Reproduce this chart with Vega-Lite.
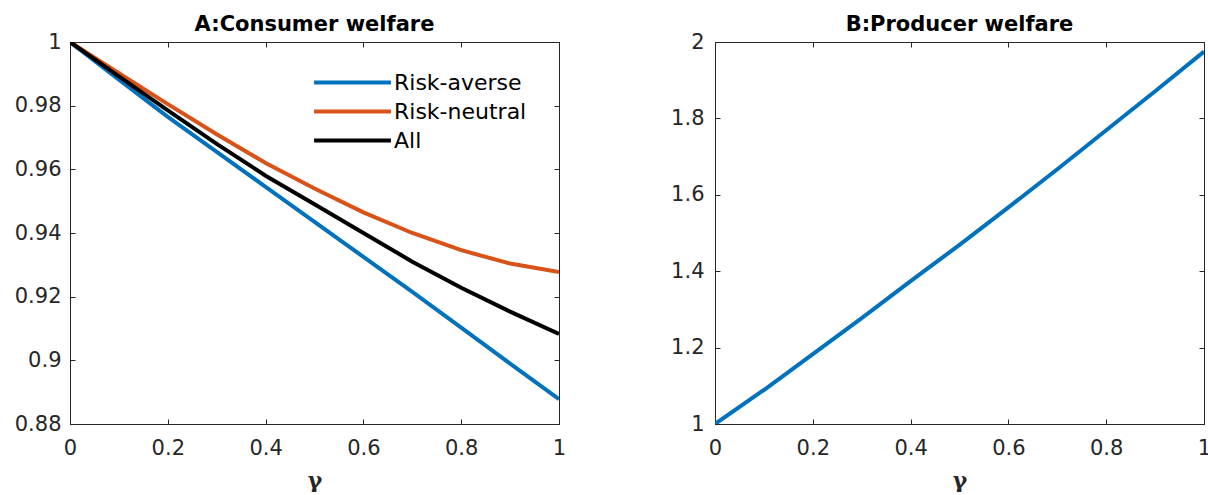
{
  "$schema": "https://vega.github.io/schema/vega-lite/v6.json",
  "background": "white",
  "padding": {"left": 13, "top": 13, "right": 0, "bottom": 0},
  "spacing": 103,
  "config": {
    "view": {"stroke": "#262626", "strokeWidth": 1},
    "font": "DejaVu Sans",
    "axis": {
      "domainColor": "#262626",
      "domainWidth": 1,
      "tickColor": "#262626",
      "tickWidth": 1,
      "tickSize": -5,
      "labelFont": "DejaVu Sans",
      "labelFontSize": 21,
      "labelColor": "#262626",
      "labelFlush": false,
      "labelOverlap": false,
      "grid": false,
      "titleFont": "DejaVu Serif",
      "titleFontSize": 22,
      "titleFontWeight": "bold",
      "titleColor": "#262626"
    },
    "title": {"font": "DejaVu Sans", "fontSize": 21, "fontWeight": "bold", "color": "#000000", "offset": -4}
  },
  "datasets": {
    "consumer": [
      {"gamma": 0.0, "series": "Risk-averse", "value": 1.0},
      {"gamma": 0.1, "series": "Risk-averse", "value": 0.9882},
      {"gamma": 0.2, "series": "Risk-averse", "value": 0.9765},
      {"gamma": 0.3, "series": "Risk-averse", "value": 0.9655},
      {"gamma": 0.4, "series": "Risk-averse", "value": 0.9545},
      {"gamma": 0.5, "series": "Risk-averse", "value": 0.9435},
      {"gamma": 0.6, "series": "Risk-averse", "value": 0.9325},
      {"gamma": 0.7, "series": "Risk-averse", "value": 0.9215},
      {"gamma": 0.8, "series": "Risk-averse", "value": 0.9103},
      {"gamma": 0.9, "series": "Risk-averse", "value": 0.899},
      {"gamma": 1.0, "series": "Risk-averse", "value": 0.8878},
      {"gamma": 0.0, "series": "Risk-neutral", "value": 1.0},
      {"gamma": 0.1, "series": "Risk-neutral", "value": 0.9902},
      {"gamma": 0.2, "series": "Risk-neutral", "value": 0.9805},
      {"gamma": 0.3, "series": "Risk-neutral", "value": 0.971},
      {"gamma": 0.4, "series": "Risk-neutral", "value": 0.962},
      {"gamma": 0.5, "series": "Risk-neutral", "value": 0.954},
      {"gamma": 0.6, "series": "Risk-neutral", "value": 0.9465},
      {"gamma": 0.7, "series": "Risk-neutral", "value": 0.94},
      {"gamma": 0.8, "series": "Risk-neutral", "value": 0.9346},
      {"gamma": 0.9, "series": "Risk-neutral", "value": 0.9304},
      {"gamma": 1.0, "series": "Risk-neutral", "value": 0.9277},
      {"gamma": 0.0, "series": "All", "value": 1.0},
      {"gamma": 0.1, "series": "All", "value": 0.9892},
      {"gamma": 0.2, "series": "All", "value": 0.9785},
      {"gamma": 0.3, "series": "All", "value": 0.968},
      {"gamma": 0.4, "series": "All", "value": 0.958},
      {"gamma": 0.5, "series": "All", "value": 0.949},
      {"gamma": 0.6, "series": "All", "value": 0.94},
      {"gamma": 0.7, "series": "All", "value": 0.931},
      {"gamma": 0.8, "series": "All", "value": 0.9228},
      {"gamma": 0.9, "series": "All", "value": 0.9153},
      {"gamma": 1.0, "series": "All", "value": 0.9083}
    ],
    "producer": [
      {"gamma": 0.0, "value": 1.0},
      {"gamma": 0.1, "value": 1.089},
      {"gamma": 0.2, "value": 1.183},
      {"gamma": 0.3, "value": 1.277},
      {"gamma": 0.4, "value": 1.374},
      {"gamma": 0.5, "value": 1.469},
      {"gamma": 0.6, "value": 1.567},
      {"gamma": 0.7, "value": 1.667},
      {"gamma": 0.8, "value": 1.769},
      {"gamma": 0.9, "value": 1.871},
      {"gamma": 1.0, "value": 1.975}
    ]
  },
  "hconcat": [
    {
      "width": 489,
      "height": 382,
      "title": {"text": "A:Consumer welfare"},
      "data": {"name": "consumer"},
      "resolve": {"axis": {"x": "independent", "y": "independent"}},
      "layer": [
        {
          "mark": {"type": "line", "strokeWidth": 4, "clip": true},
          "encoding": {
            "x": {
              "field": "gamma", "type": "quantitative",
              "scale": {"domain": [0, 1], "nice": false, "zero": false},
              "axis": {"orient": "bottom", "values": [0, 0.2, 0.4, 0.6, 0.8, 1], "format": "~g", "title": "γ", "labelPadding": 18, "titlePadding": 12}
            },
            "y": {
              "field": "value", "type": "quantitative",
              "scale": {"domain": [0.88, 1], "nice": false, "zero": false},
              "axis": {"orient": "left", "values": [0.88, 0.9, 0.92, 0.94, 0.96, 0.98, 1], "format": "~g", "title": null, "labelPadding": 14}
            },
            "color": {
              "field": "series", "type": "nominal",
              "scale": {"domain": ["Risk-averse", "Risk-neutral", "All"], "range": ["#0072BD", "#D95319", "#000000"]},
              "legend": {
                "title": null,
                "orient": "none",
                "legendX": 265,
                "legendY": 23,
                "symbolType": "M-2.48,0H2.48",
                "symbolSize": 961,
                "symbolStrokeWidth": 4,
                "labelFont": "DejaVu Sans",
                "labelFontSize": 22,
                "labelColor": "#000000",
                "labelOffset": 24,
                "rowPadding": 0
              }
            },
            "order": {"field": "gamma", "type": "quantitative"}
          }
        },
        {
          "mark": {"type": "line", "opacity": 0},
          "encoding": {
            "x": {"field": "gamma", "type": "quantitative", "axis": {"orient": "top", "values": [0, 0.2, 0.4, 0.6, 0.8, 1], "labels": false, "title": null}},
            "y": {"field": "value", "type": "quantitative", "axis": {"orient": "right", "values": [0.88, 0.9, 0.92, 0.94, 0.96, 0.98, 1], "labels": false, "title": null}}
          }
        }
      ]
    },
    {
      "width": 489,
      "height": 382,
      "title": {"text": "B:Producer welfare"},
      "data": {"name": "producer"},
      "resolve": {"axis": {"x": "independent", "y": "independent"}},
      "layer": [
        {
          "mark": {"type": "line", "strokeWidth": 4, "color": "#0072BD", "clip": true},
          "encoding": {
            "x": {
              "field": "gamma", "type": "quantitative",
              "scale": {"domain": [0, 1], "nice": false, "zero": false},
              "axis": {"orient": "bottom", "values": [0, 0.2, 0.4, 0.6, 0.8, 1], "format": "~g", "title": "γ", "labelPadding": 18, "titlePadding": 12}
            },
            "y": {
              "field": "value", "type": "quantitative",
              "scale": {"domain": [1, 2], "nice": false, "zero": false},
              "axis": {"orient": "left", "values": [1, 1.2, 1.4, 1.6, 1.8, 2], "format": "~g", "title": null, "labelPadding": 16}
            }
          }
        },
        {
          "mark": {"type": "line", "opacity": 0},
          "encoding": {
            "x": {"field": "gamma", "type": "quantitative", "axis": {"orient": "top", "values": [0, 0.2, 0.4, 0.6, 0.8, 1], "labels": false, "title": null}},
            "y": {"field": "value", "type": "quantitative", "axis": {"orient": "right", "values": [1, 1.2, 1.4, 1.6, 1.8, 2], "labels": false, "title": null}}
          }
        }
      ]
    }
  ]
}
